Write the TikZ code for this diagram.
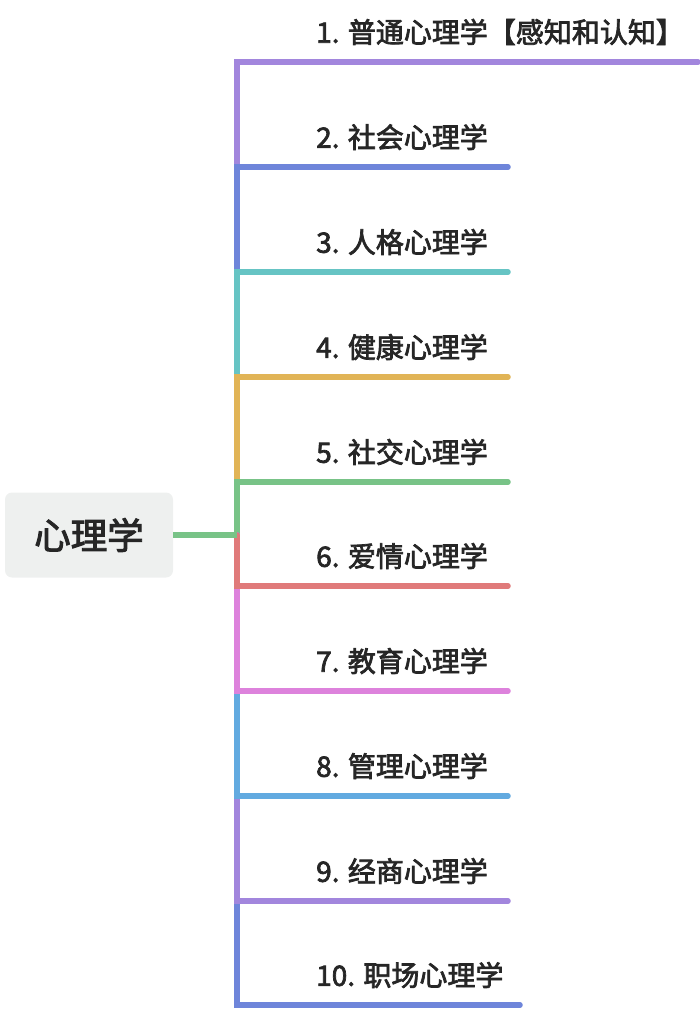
\documentclass[tikz,border=0pt]{standalone}
\usepackage{fontspec}
\setmainfont{Noto Sans CJK SC}[FakeBold=2.6]
\usepackage{tikz}
\usetikzlibrary{positioning}
\definecolor{brpurple}{HTML}{A286DD}
\definecolor{brslate}{HTML}{6E85DA}
\definecolor{brteal}{HTML}{66C4C4}
\definecolor{brgold}{HTML}{E1B456}
\definecolor{brgreen}{HTML}{78C387}
\definecolor{brred}{HTML}{E07A7A}
\definecolor{brpink}{HTML}{DD82DC}
\definecolor{brsky}{HTML}{62AAE0}
\definecolor{rootgray}{HTML}{EEF0EF}
\definecolor{textdark}{HTML}{262626}

\begin{document}
\begin{tikzpicture}[x=1pt,y=-1pt,
  topic/.style={anchor=west,inner sep=0pt,text=textdark,font=\fontsize{28}{32}\selectfont},
  branch/.style={line width=5.5pt,line cap=round,line join=miter}]
\useasboundingbox (0,0) rectangle (700,1012);
\node[fill=rootgray,rounded corners=7pt,minimum width=168pt,minimum height=85pt,
  text=textdark,font=\fontsize{36.5}{40}\selectfont] (root) at (89,535) {心理学};
\coordinate (hub) at (237,535);
\node[topic] (t1) at (316,32) {1. 普通心理学【感知和认知】};
\node[topic] (t2) at (316,137) {2. 社会心理学};
\node[topic] (t3) at (316,242) {3. 人格心理学};
\node[topic] (t4) at (316,347) {4. 健康心理学};
\node[topic] (t5) at (316,452) {5. 社交心理学};
\node[topic] (t6) at (316,556) {6. 爱情心理学};
\node[topic] (t7) at (316,661) {7. 教育心理学};
\node[topic] (t8) at (316,766) {8. 管理心理学};
\node[topic] (t9) at (316,871) {9. 经商心理学};
\node[topic] (t10) at (316,975) {10. 职场心理学};
\coordinate (u1) at (698,62);
\coordinate (u2) at (508,167);
\coordinate (u3) at (508,272);
\coordinate (u4) at (508,377);
\coordinate (u5) at (508,482);
\coordinate (u6) at (508,586);
\coordinate (u7) at (508,691);
\coordinate (u8) at (508,796);
\coordinate (u9) at (508,901);
\coordinate (u10) at (520,1005);
% upper branches
\draw[branch,brpurple] (hub) |- (u1);
\draw[branch,brslate] (hub) |- (u2);
\draw[branch,brteal] (hub) |- (u3);
\draw[branch,brgold] (hub) |- (u4);
\draw[branch,brgreen] (hub) |- (u5);
% lower branches
\draw[branch,brslate] (hub) |- (u10);
\draw[branch,brpurple] (hub) |- (u9);
\draw[branch,brsky] (hub) |- (u8);
\draw[branch,brpink] (hub) |- (u7);
\draw[branch,brred] (hub) |- (u6);
\draw[branch,brgreen,line cap=butt] (root) -- (hub);
\end{tikzpicture}
\end{document}
